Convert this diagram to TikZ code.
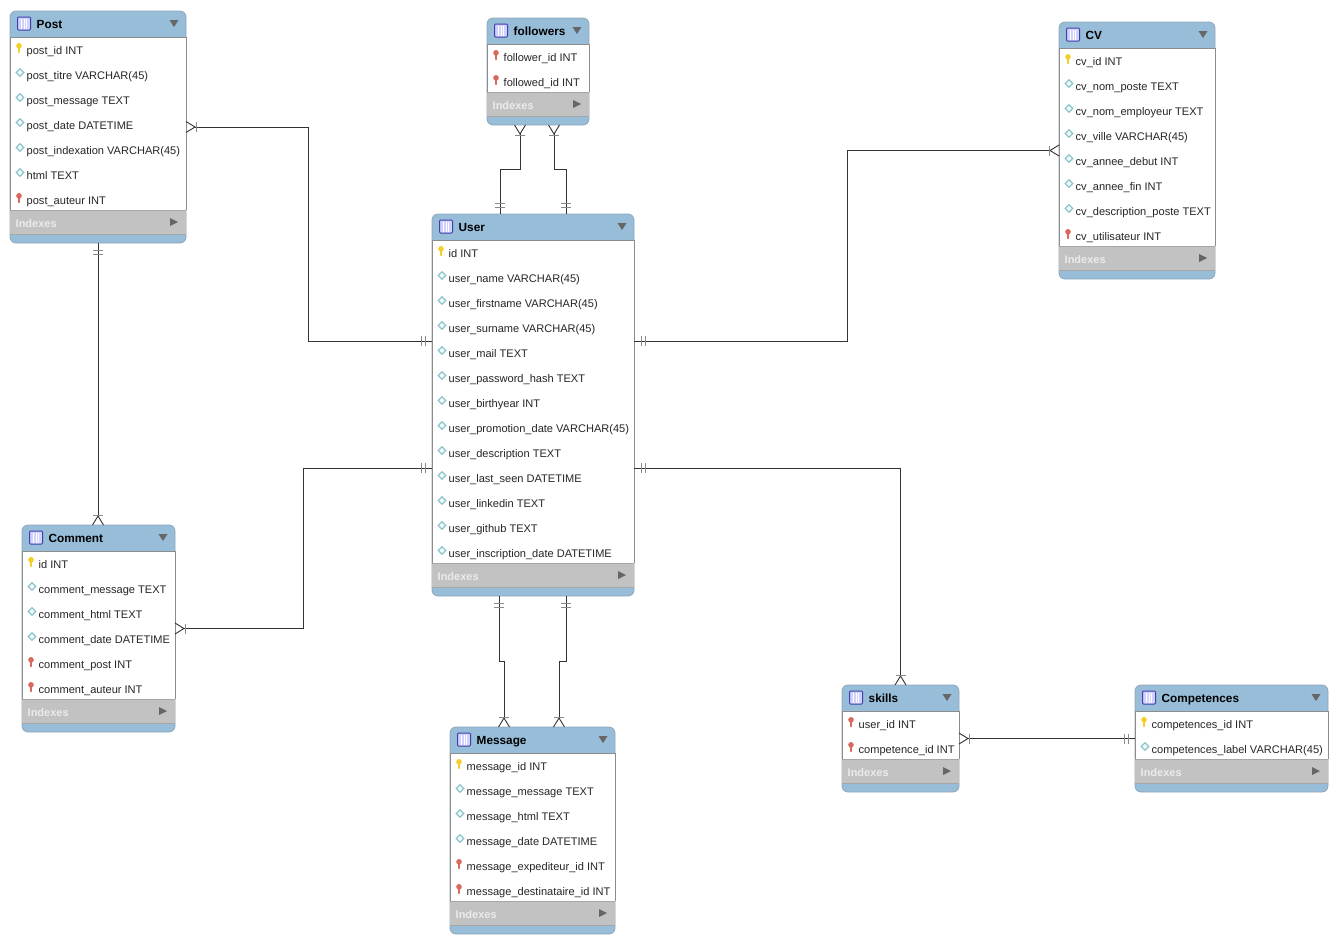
\documentclass[tikz,border=0pt]{standalone}
\usepackage{fontspec}
\setmainfont{Liberation Sans}
\usetikzlibrary{arrows.meta}

\definecolor{headblue}{HTML}{97BDD9}
\definecolor{edgeblue}{HTML}{8FA6B8}
\definecolor{bandgrey}{HTML}{C2C2C2}
\definecolor{tickgrey}{HTML}{8A8A8A}
\definecolor{linedark}{HTML}{333333}
\definecolor{keygold}{HTML}{F4CF2A}
\definecolor{keyred}{HTML}{D9695C}
\definecolor{colteal}{HTML}{8CC6CC}

% tips of the connectors
\pgfdeclarearrow{
  name=onebar,
  setup code={\pgfarrowssettipend{0pt}\pgfarrowssetlineend{0pt}\pgfarrowssetbackend{-12pt}},
  drawing code={
    \pgfsetlinewidth{1pt}\pgfsetstrokecolor{tickgrey}
    \pgfpathmoveto{\pgfpoint{-7pt}{-5pt}}\pgfpathlineto{\pgfpoint{-7pt}{5pt}}
    \pgfpathmoveto{\pgfpoint{-11pt}{-5pt}}\pgfpathlineto{\pgfpoint{-11pt}{5pt}}
    \pgfusepathqstroke
  }
}
\pgfdeclarearrow{
  name=crowfoot,
  setup code={\pgfarrowssettipend{0pt}\pgfarrowssetlineend{-8pt}\pgfarrowssetbackend{-12pt}},
  drawing code={
    \pgfsetlinewidth{0.9pt}\pgfsetstrokecolor{linedark}
    \pgfpathmoveto{\pgfpoint{0pt}{-5.5pt}}\pgfpathlineto{\pgfpoint{-9pt}{0pt}}\pgfpathlineto{\pgfpoint{0pt}{5.5pt}}
    \pgfusepathqstroke
    \pgfsetstrokecolor{tickgrey}
    \pgfpathmoveto{\pgfpoint{-10pt}{-5pt}}\pgfpathlineto{\pgfpoint{-10pt}{5pt}}
    \pgfusepathqstroke
  }
}

\tikzset{
  table box/.style={draw=edgeblue,fill=headblue,rounded corners=6pt,line width=0.8pt,inner sep=0pt,outer sep=0pt},
  title text/.style={anchor=base west,inner sep=0pt,font=\fontsize{11.8}{13}\selectfont\bfseries,text=black},
  row text/.style={anchor=base west,inner sep=0pt,font=\fontsize{11.05}{12}\selectfont,text=black!85},
  index text/.style={anchor=base west,inner sep=0pt,font=\fontsize{11}{12}\selectfont\bfseries,text=white!92!black},
  link/.style={draw=linedark,line width=1pt,rounded corners=0pt},
}

% key and column marks, #1 x and #2 y of the row
\newcommand{\keymark}[3]{
  \fill[#3,rounded corners=0.4pt] (#1-1.2,#2-4) -- (#1+1.2,#2-4) -- (#1+0.7,#2+3) -- (#1-0.7,#2+3) -- cycle;
  \fill[#3] (#1,#2-4.2) circle (2.8pt);
}
\newcommand{\pkicon}[2]{\keymark{#1}{#2}{keygold}}
\newcommand{\fkicon}[2]{\keymark{#1}{#2}{keyred}}
\newcommand{\colicon}[2]{
  \draw[colteal,fill=white!90!colteal,line width=1.2pt] (#1+1,#2-6.2) -- (#1+4.7,#2-2.5) -- (#1+1,#2+1.2) -- (#1-2.7,#2-2.5) -- cycle;
}

% #1 name, #2 left, #3 top, #4 right, #5 title, #6 number of rows, #7 rows
\newcommand{\dbtable}[7]{
  \pgfmathsetmacro{\tabh}{#6*25+57}
  \pgfmathsetmacro{\tabm}{#3+\tabh/2}
  \pgfmathsetmacro{\bandt}{#3+24+25*#6}
  \node[table box,minimum width={(#4-#2)*1pt},minimum height={\tabh*1pt}] (#1) at ({(#2+#4)/2},\tabm) {};
  \fill[white] (#2,#3+26) rectangle (#4,\bandt);
  \draw[black!45,line width=0.7pt] (#2,\bandt) -- (#2,#3+26) -- (#4,#3+26) -- (#4,\bandt);
  \fill[bandgrey] (#2-0.4,\bandt) rectangle (#4+0.4,\bandt+24);
  \draw[black!35,line width=0.7pt] (#2,\bandt) -- (#4,\bandt) (#2,\bandt+24) -- (#4,\bandt+24);
  % table icon
  \draw[blue!55!black!75,fill=blue!18!white,line width=1pt,rounded corners=1pt] (#2+7.5,#3+6) rectangle (#2+20.5,#3+19);
  \draw[white,line width=0.7pt] (#2+11.5,#3+7.5) -- (#2+11.5,#3+18) (#2+14,#3+7.5) -- (#2+14,#3+18) (#2+16.5,#3+7.5) -- (#2+16.5,#3+18);
  \node[title text] (#1-title) at (#2+26.5,#3+17) {#5};
  \fill[black!60] (#4-16.5,#3+9) -- (#4-7.5,#3+9) -- (#4-12,#3+16) -- cycle;
  \foreach \kind/\rowlabel [count=\i] in {#7} {
    \csname\kind icon\endcsname{#2+9}{#3+14+25*\i}
    \node[row text] (#1-\i) at (#2+16.5,#3+18+25*\i) {\rowlabel};
  }
  \node[index text] (#1-indexes) at (#2+5.5,\bandt+17) {Indexes};
  \fill[black!60] (#4-16,\bandt+8) -- (#4-8,\bandt+12) -- (#4-16,\bandt+16) -- cycle;
}

\begin{document}
\begin{tikzpicture}[x=1pt,y=-1pt]
\useasboundingbox (0,0) rectangle (1337,943);

\dbtable{Post}{10}{11}{186}{Post}{7}{pk/post\_id INT,col/post\_titre VARCHAR(45),col/post\_message TEXT,col/post\_date DATETIME,col/post\_indexation VARCHAR(45),col/html TEXT,fk/post\_auteur INT}
\dbtable{followers}{487}{18}{589}{followers}{2}{fk/follower\_id INT,fk/followed\_id INT}
\dbtable{CV}{1059}{22}{1215}{CV}{8}{pk/cv\_id INT,col/cv\_nom\_poste TEXT,col/cv\_nom\_employeur TEXT,col/cv\_ville VARCHAR(45),col/cv\_annee\_debut INT,col/cv\_annee\_fin INT,col/cv\_description\_poste TEXT,fk/cv\_utilisateur INT}
\dbtable{User}{432}{214}{634}{User}{13}{pk/id INT,col/user\_name VARCHAR(45),col/user\_firstname VARCHAR(45),col/user\_surname VARCHAR(45),col/user\_mail TEXT,col/user\_password\_hash TEXT,col/user\_birthyear INT,col/user\_promotion\_date VARCHAR(45),col/user\_description TEXT,col/user\_last\_seen DATETIME,col/user\_linkedin TEXT,col/user\_github TEXT,col/user\_inscription\_date DATETIME}
\dbtable{Comment}{22}{525}{175}{Comment}{6}{pk/id INT,col/comment\_message TEXT,col/comment\_html TEXT,col/comment\_date DATETIME,fk/comment\_post INT,fk/comment\_auteur INT}
\dbtable{Message}{450}{727}{615}{Message}{6}{pk/message\_id INT,col/message\_message TEXT,col/message\_html TEXT,col/message\_date DATETIME,fk/message\_expediteur\_id INT,fk/message\_destinataire\_id INT}
\dbtable{skills}{842}{685}{959}{skills}{2}{fk/user\_id INT,fk/competence\_id INT}
\dbtable{Competences}{1135}{685}{1328}{Competences}{2}{pk/competences\_id INT,col/competences\_label VARCHAR(45)}

% connectors
\draw[link,crowfoot-onebar] (Post.east) -- ++(122,0) |- ([yshift=64pt]User.west);
\draw[link,onebar-crowfoot] (Post.south) -- (Post.south |- Comment.north);
\draw[link,crowfoot-onebar] ([xshift=-18pt]followers.south) -- ++(0,44) -| ([xshift=-33pt]User.north);
\draw[link,crowfoot-onebar] ([xshift=16pt]followers.south) -- ++(0,44) -| ([xshift=33pt]User.north);
\draw[link,onebar-crowfoot] ([yshift=64pt]User.east) -- ++(213,0) |- (CV.west);
\draw[link,onebar-crowfoot] ([yshift=-63pt]User.west) -- ++(-129,0) |- (Comment.east);
\draw[link,onebar-crowfoot] ([xshift=-34pt]User.south) -- ++(0,65) -| ([xshift=-28.5pt]Message.north);
\draw[link,onebar-crowfoot] ([xshift=33pt]User.south) -- ++(0,65) -| ([xshift=26.5pt]Message.north);
\draw[link,onebar-crowfoot] ([yshift=-63pt]User.east) -| (skills.north);
\draw[link,crowfoot-onebar] (skills.east) -- (Competences.west);

\end{tikzpicture}
\end{document}
